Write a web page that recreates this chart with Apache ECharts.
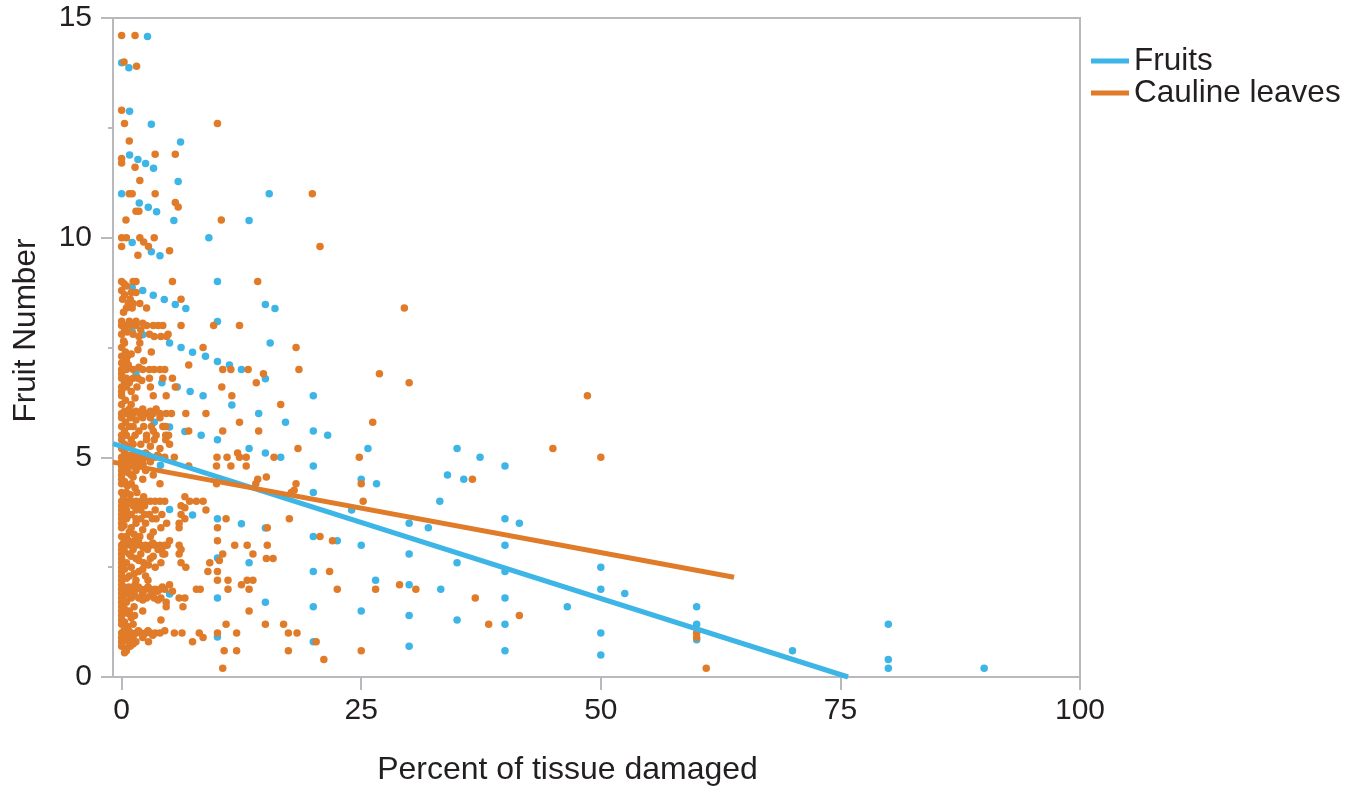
<!DOCTYPE html>
<html>
<head>
<meta charset="utf-8">
<script src="https://cdn.jsdelivr.net/npm/echarts@6/dist/echarts.min.js"></script>
<style>
html,body{margin:0;padding:0;background:#fff;overflow:hidden;}
#chart{width:1359px;height:791px;}
</style>
</head>
<body>
<div id="chart"></div>
<script>
// ---- data ----
const seriesNames = ['Fruits', 'Cauline leaves'];
const xTickLabels = [0, 25, 50, 75, 100];
const yTickLabels = [0, 5, 10, 15];

// Fruits: [percent damaged, fruit number]
const fruitsPoints = [
[2.7,14.58],[0,13.98],[0.76,13.87],[0.83,12.88],[3.1,12.58],[6.15,12.18],[0.83,11.88],[1.7,11.78],[2.5,11.69],[3.33,11.58],
[5.9,11.28],[0,11.0],[15.4,11.0],[1.84,10.79],[2.78,10.69],[3.65,10.59],[5.45,10.39],[13.3,10.39],[9.1,10.0],[1.1,9.89],
[3.1,9.68],[4.0,9.59],[10,9.0],[1.1,8.87],[2.2,8.8],[3.3,8.69],[4.45,8.59],[5.6,8.48],[6.7,8.39],[15,8.48],[16,8.39],
[10,8.09],[1.1,7.86],[2.2,7.79],[5,7.6],[6.2,7.5],[7.4,7.39],[8.75,7.3],[10,7.18],[11.25,7.1],[12.5,7.0],[15.5,7.6],
[15,6.79],[1.5,6.92],[4.2,6.7],[5.8,6.6],[7.15,6.5],[8.5,6.4],[11.5,6.19],[14.3,6.0],[17.1,5.8],[20,6.4],[3.4,5.8],
[5,5.69],[6.6,5.59],[8.3,5.5],[10,5.4],[13.3,5.2],[15,5.1],[16.6,5.0],[20,5.6],[21.5,5.5],[20,4.8],[25.7,5.2],[35,5.2],
[37.4,5.0],[40,4.8],[25,4.5],[26.6,4.4],[34,4.6],[35.7,4.5],[33.2,4.0],[20,4.2],[24,3.8],[30,3.5],[32,3.4],[40,3.6],
[41.5,3.5],[20,3.2],[22.5,3.1],[25,3.0],[40,3.0],[30,2.8],[35,2.6],[40,2.4],[20,2.4],[26.5,2.2],[50,2.5],[30,2.1],
[50,2.0],[52.5,1.9],[33.3,2.0],[40,1.8],[46.5,1.6],[60,1.6],[60,1.2],[60,0.85],[50,1.0],[50,0.5],[35,1.3],[30,1.4],
[40,1.2],[40,0.6],[30,0.7],[25,1.5],[20,1.6],[15,1.7],[20,0.8],[70,0.6],[80,1.2],[80,0.4],[80,0.2],[90,0.2],
[5,3.81],[7.4,3.69],[10,3.6],[12.5,3.49],[15,3.39],[10,2.71],[13.3,2.6],[5,1.89],[10,1.8],[10,0.91],[4.05,4.82]
];

// Cauline leaves: [percent damaged, fruit number]
const caulinePoints = [
[0,14.6],[1.4,14.6],[0.25,14.0],[1.56,13.9],[0,12.9],[0.3,12.6],[10,12.6],[0.8,12.2],[0,11.8],[0,11.7],[3.5,11.9],[5.6,11.9],
[1.4,11.6],[1.9,11.3],[0.8,11.0],[1.1,11.0],[3.5,11.0],[19.9,11.0],[5.6,10.8],[5.9,10.7],[1.5,10.6],[1.8,10.6],[0.45,10.4],[10.4,10.4],
[0,10.0],[0.5,10.0],[1.9,10.0],[3.4,10.0],[0,9.8],[2.3,9.9],[2.8,9.8],[5.0,9.7],[1.7,9.6],[20.7,9.8],
[0,9.0],[1.2,9.0],[1.5,9.0],[5.3,9.0],[14.2,9.0],[0.5,8.9],[0,8.8],[1.0,8.75],[1.5,8.75],[0.1,8.6],[0.9,8.6],[6.2,8.6],
[1.2,8.5],[1.9,8.5],[0.5,8.4],[1.1,8.4],[2.6,8.4],[29.5,8.4],
[0,8.1],[1.5,8.1],[2.2,8.05],[0,8.0],[0.5,8.0],[1.0,8.0],[1.5,8.0],[2.6,8.0],[3.3,8.0],[3.8,8.0],[4.3,8.0],[6.2,8.0],[9.6,8.0],[12.3,8.0],
[0,7.8],[1.2,7.8],[2.9,7.8],[4.85,7.8],[1.8,7.75],[3.4,7.75],[4.1,7.75],[4.7,7.75],[0.2,7.65],[1.9,7.6],[0,7.5],[8.5,7.5],[18.2,7.5],
[1.7,7.45],[3.1,7.4],[0,7.3],[0.6,7.3],[2.3,7.2],[0.5,7.2],[7.0,7.1],[0,7.15],
[0,7.0],[0.15,7.0],[0.5,7.0],[1.2,7.0],[2.2,7.0],[2.9,7.0],[3.4,7.0],[4.0,7.0],[4.5,7.0],[10.55,7.0],[11.4,7.0],[13.2,7.0],[18.5,7.0],
[14.8,6.9],[26.9,6.9],[0,6.9],[0,6.8],[0.5,6.8],[1.2,6.8],[1.7,6.8],[2.9,6.8],[4.3,6.8],[5.3,6.8],[14.05,6.7],[30,6.7],
[0,6.6],[0.5,6.6],[3.0,6.6],[5.6,6.6],[10.45,6.6],[0,6.5],[1.0,6.5],[0,6.4],[3.3,6.4],[4.65,6.4],[11.5,6.4],[48.6,6.4],
[0,6.2],[1.0,6.2],[16.6,6.2],
[0,6.0],[0.5,6.0],[1.2,6.0],[1.9,6.0],[2.6,6.0],[3.3,6.0],[4.0,6.0],[4.65,6.0],[5.2,6.0],[6.7,6.0],[8.8,6.0],
[0,5.9],[0.9,5.9],[2.2,5.9],[4.0,5.9],[12.3,5.8],[26.2,5.8],[0,5.7],[0.8,5.7],[1.2,5.7],[2.3,5.7],[3.1,5.7],[4.3,5.7],
[7.0,5.6],[10.55,5.6],[14.3,5.6],
[0,5.5],[0.5,5.5],[1.4,5.5],[2.6,5.5],[3.6,5.5],[4.6,5.5],[4.9,5.5],[0,5.4],[1.0,5.4],[2.6,5.4],[3.4,5.4],[4.6,5.4],
[0,5.2],[18.4,5.2],[45,5.2],[12.1,5.1],[0.3,5.1],[1.5,5.1],[2.5,5.1],
[0,5.0],[0.5,5.0],[1.0,5.0],[1.5,5.0],[2.0,5.0],[2.5,5.0],[3.0,5.0],[3.5,5.0],[4.0,5.0],[4.5,5.0],[5.5,5.0],[9.95,5.0],
[11.0,5.0],[12.3,5.0],[13.0,5.0],[15.9,5.0],[24.8,5.0],[50,5.0],
[0,4.9],[0.4,4.9],[0.8,4.9],[1.3,4.9],[2.1,4.9],[3.0,4.9],[0,4.8],[1.0,4.8],[1.8,4.8],[7.0,4.8],[9.9,4.8],[11.4,4.8],[13.0,4.8],
[0,4.7],[0.5,4.7],[1.5,4.7],[2.5,4.7],[0,4.6],[1.0,4.6],[3.3,4.6],[15.1,4.55],
[0,4.5],[2.2,4.5],[14.2,4.5],[36.6,4.5],[0,4.4],[1.0,4.4],[4.0,4.4],[9.9,4.4],[14.0,4.4],[18.2,4.4],[25,4.4],
[0,4.2],[0.5,4.2],[17.7,4.2],[18,4.25],
[0,4.0],[0.5,4.0],[1.0,4.0],[1.5,4.0],[2.0,4.0],[2.5,4.0],[3.0,4.0],[3.5,4.0],[4.0,4.0],[4.5,4.0],[6.6,4.1],[7.1,4.0],
[7.8,4.0],[8.5,4.0],[25.2,4.0],[6.2,3.9],[6.2,3.7],[6.0,3.5],[6.2,2.9],[6.2,2.6],
[0,3.9],[1.2,3.9],[2.4,3.9],[0,3.8],[0.5,3.8],[1.5,3.8],[2.0,3.8],[3.5,3.8],[6.6,3.85],[8.8,3.8],[0,3.7],[1.0,3.7],[2.9,3.7],
[4.2,3.7],[0,3.6],[0.5,3.6],[2.0,3.6],[3.2,3.6],[6.6,3.6],[10.9,3.6],[17.5,3.6],[0,3.5],[1.5,3.5],[2.5,3.5],[4.7,3.5],
[0,3.4],[1.0,3.4],[6.0,3.4],[10,3.4],[15.2,3.4],
[0,3.2],[0.5,3.2],[1.9,3.2],[3.0,3.2],[20.7,3.2],[0.3,3.1],[1.4,3.1],[10,3.1],[22,3.1],
[0,3.0],[0.5,3.0],[1.0,3.0],[1.5,3.0],[2.0,3.0],[2.5,3.0],[3.0,3.0],[3.5,3.0],[4.0,3.0],[4.5,3.0],[6.0,3.0],[11.8,3.0],
[13.1,3.0],[15.2,3.0],
[0,2.9],[1.2,2.9],[2.7,2.9],[3.8,2.9],[0,2.8],[0.8,2.8],[2.0,2.8],[4.3,2.8],[6.0,2.8],[10.55,2.8],[13.7,2.8],[0,2.7],
[1.5,2.7],[3.0,2.7],[15.1,2.7],[15.8,2.7],[0,2.6],[0.5,2.6],[2.3,2.6],[9.2,2.6],[10.2,2.65],[0,2.5],[1.0,2.5],[3.5,2.5],
[6.7,2.5],[0,2.4],[1.8,2.4],[9.0,2.4],[10.0,2.4],[21.7,2.4],[0,2.3],[0.8,2.3],[2.5,2.3],[0,2.2],[2.75,2.2],[10,2.2],
[11.1,2.2],[13.1,2.2],[13.7,2.2],[0,2.1],[1.4,2.1],[12.5,2.1],[29,2.1],
[0,2.0],[0.5,2.0],[1.0,2.0],[1.5,2.0],[2.0,2.0],[2.5,2.0],[3.0,2.0],[3.5,2.0],[4.0,2.0],[4.5,2.0],[7.8,2.0],[8.2,2.0],
[11.1,2.0],[13.3,2.0],[22.5,2.0],[26.5,2.0],[30.7,2.0],
[0,1.9],[0.6,1.9],[2.2,1.9],[3.2,1.9],[0,1.8],[1.0,1.8],[1.8,1.8],[2.6,1.8],[3.4,1.8],[4.1,1.8],[6.0,1.8],[6.6,1.8],
[36.9,1.8],[0,1.7],[0.5,1.7],[4.65,1.7],[0,1.6],[1.3,1.6],[4.65,1.6],[6.4,1.6],[0,1.5],[0.8,1.5],[2.2,1.5],[13.3,1.5],
[0,1.4],[1.35,1.4],[41.5,1.4],[0,1.3],[4.1,1.3],[0,1.2],[1.2,1.2],[10.9,1.2],[15,1.2],[16.9,1.2],[38.3,1.2],
[0,1.0],[0.5,1.0],[1.0,1.0],[1.5,1.0],[2.0,1.0],[2.5,1.0],[3.0,1.0],[3.5,1.0],[4.0,1.0],[5.5,1.0],[6.3,1.0],[8.1,1.0],
[10,1.0],[12,1.0],[17.4,1.0],[18.3,1.0],[60,1.0],
[0,0.9],[0.4,0.9],[1.0,0.9],[2.2,0.9],[8.5,0.9],[60,0.9],[0,0.8],[1.5,0.8],[2.8,0.8],[7.4,0.8],[20.3,0.8],[0,0.7],[0.9,0.7],
[0.5,0.6],[10.7,0.6],[12,0.6],[17.4,0.6],[25,0.6],[0.3,0.55],[21.1,0.4],[10.55,0.2],[61,0.2]
];

// more Cauline leaves points in the crowded strip near 0 % damage
const caulineCrowded = [
[0.25,8.95],[0.3,8.7],[0.7,8.5],[0.2,8.3],[0.8,8.1],[0.3,7.9],[0.6,7.85],[2.0,7.9],[0.3,7.6],[0.4,7.4],[1.0,7.35],[0.25,7.05],
[0.7,7.1],[1.8,7.05],[0.3,6.7],[0.8,6.7],[1.6,6.6],[2.1,6.75],[0.4,6.3],[1.4,6.35],[0.3,6.05],[0.8,6.1],[1.5,6.05],[2.2,6.1],
[3.0,6.05],[3.6,6.1],[0.4,5.8],[1.5,5.85],[3.0,5.9],[0.3,5.6],[1.8,5.6],[3.3,5.6],[4.6,5.7],[0.3,5.3],[0.7,5.25],[1.2,5.3],
[2.0,5.3],[3.0,5.25],[4.0,5.2],[5.0,5.3],[0.75,5.05],[1.25,5.05],[2.75,5.05],[3.75,5.05],
[0.25,4.95],[0.75,4.95],[1.25,4.85],[1.75,4.95],[2.25,4.85],[0.2,4.75],[0.7,4.65],[1.2,4.55],[0.3,4.45],[0.6,4.35],[1.4,4.3],
[0.2,4.1],[0.9,4.15],[1.6,4.2],[2.3,4.1],
[0.25,3.9],[0.75,3.95],[1.75,3.9],[0.3,3.7],[0.6,3.65],[1.5,3.6],[2.4,3.7],[3.6,3.6],[0.25,3.45],[0.8,3.3],[1.3,3.25],[2.2,3.35],
[3.3,3.3],[4.1,3.4],[0.2,3.05],[0.75,3.1],[1.75,3.1],[2.25,2.95],[3.25,3.05],[4.25,2.95],[4.75,3.0],[5.0,3.1],
[0.3,2.85],[1.0,2.75],[1.8,2.65],[2.8,2.55],[3.3,2.75],[0.3,2.45],[1.3,2.35],[2.2,2.45],[4.1,2.6],[4.5,2.8],[0.5,2.25],[1.5,2.2],
[0.25,2.05],[0.75,2.05],[1.25,1.95],[1.75,2.05],[2.25,1.95],[2.75,2.05],[3.75,1.95],[4.25,2.05],[5.0,2.1],[5.3,1.95],
[0.3,1.75],[1.4,1.85],[2.2,1.75],[3.0,1.85],[3.8,1.75],[0.3,1.55],[0.6,1.45],[1.0,1.35],[0.3,1.25],[0.6,1.15],[0.25,1.05],
[0.75,1.05],[1.25,0.95],[1.75,1.05],[2.25,0.95],[2.75,1.05],[3.25,0.95],[4.5,1.05],[0.2,0.85],[0.7,0.8],[1.2,0.75],[0.4,0.65]
];

// fitted regression lines (end points)
const fruitsFit = [[-0.9, 5.31], [75.8, 0]];
const caulineFit = [[-0.9, 4.89], [63.9, 2.27]];

// ---- styling ----
const BLUE = '#3db5e6';
const ORANGE = '#e07b29';
const AXIS = '#b9b9bd';
const TEXT = '#231f20';
const FONT = '"Liberation Sans", Arial, Helvetica, sans-serif';

const chart = echarts.init(document.getElementById('chart'), null, {renderer: 'canvas', width: 1359, height: 791});
chart.setOption({
  animation: false,
  backgroundColor: '#fff',
  textStyle: {fontFamily: FONT, color: TEXT},
  grid: {left: 113, width: 967, top: 18, height: 666, show: true, borderColor: AXIS, borderWidth: 2, containLabel: false},
  legend: {
    orient: 'vertical', left: 1091, top: 45, padding: 0, itemGap: 0,
    itemWidth: 38, itemHeight: 5, icon: 'rect',
    textStyle: {fontFamily: FONT, fontSize: 31.5, color: TEXT, lineHeight: 31},
    data: [
      {name: seriesNames[0], itemStyle: {color: BLUE}},
      {name: seriesNames[1], itemStyle: {color: ORANGE}}
    ],
    selectedMode: false
  },
  xAxis: {
    type: 'value', min: -0.9, max: 100,
    name: 'Percent of tissue damaged', nameLocation: 'middle', nameGap: 77,
    nameTextStyle: {fontFamily: FONT, fontSize: 32, color: TEXT, padding: [0, 58, 0, 0]},
    axisLine: {show: true, onZero: false, lineStyle: {color: AXIS, width: 2}},
    axisTick: {show: true, length: 13, lineStyle: {color: AXIS, width: 2}, customValues: xTickLabels},
    axisLabel: {fontFamily: FONT, fontSize: 30, color: TEXT, margin: 19, customValues: xTickLabels},
    splitLine: {show: false}
  },
  yAxis: {
    type: 'value', min: 0, max: 15, interval: 5,
    name: 'Fruit Number', nameLocation: 'middle', nameGap: 71, nameRotate: 90,
    nameTextStyle: {fontFamily: FONT, fontSize: 31.5, color: TEXT, padding: [0, 0, 0, 34]},
    axisLine: {show: true, onZero: false, lineStyle: {color: AXIS, width: 2}},
    axisTick: {show: true, length: 12, lineStyle: {color: AXIS, width: 2}},
    minorTick: {show: true, splitNumber: 2, length: 5, lineStyle: {color: AXIS, width: 2}},
    axisLabel: {fontFamily: FONT, fontSize: 30, color: TEXT, margin: 21,
      formatter: v => (yTickLabels.indexOf(v) >= 0 ? String(v) : '')},
    splitLine: {show: false}
  },
  series: [
    {name: seriesNames[0], type: 'scatter', data: fruitsPoints, symbolSize: 7.5, itemStyle: {color: BLUE, opacity: 1}, z: 2},
    {name: seriesNames[1], type: 'scatter', data: caulinePoints.concat(caulineCrowded), symbolSize: 7.5, itemStyle: {color: ORANGE, opacity: 1}, z: 3},
    {name: seriesNames[0], type: 'line', data: fruitsFit, showSymbol: false, symbol: 'none', lineStyle: {color: BLUE, width: 5}, itemStyle: {color: BLUE}, z: 4},
    {name: seriesNames[1], type: 'line', data: caulineFit, showSymbol: false, symbol: 'none', lineStyle: {color: ORANGE, width: 5}, itemStyle: {color: ORANGE}, z: 5}
  ]
});
</script>
</body>
</html>
